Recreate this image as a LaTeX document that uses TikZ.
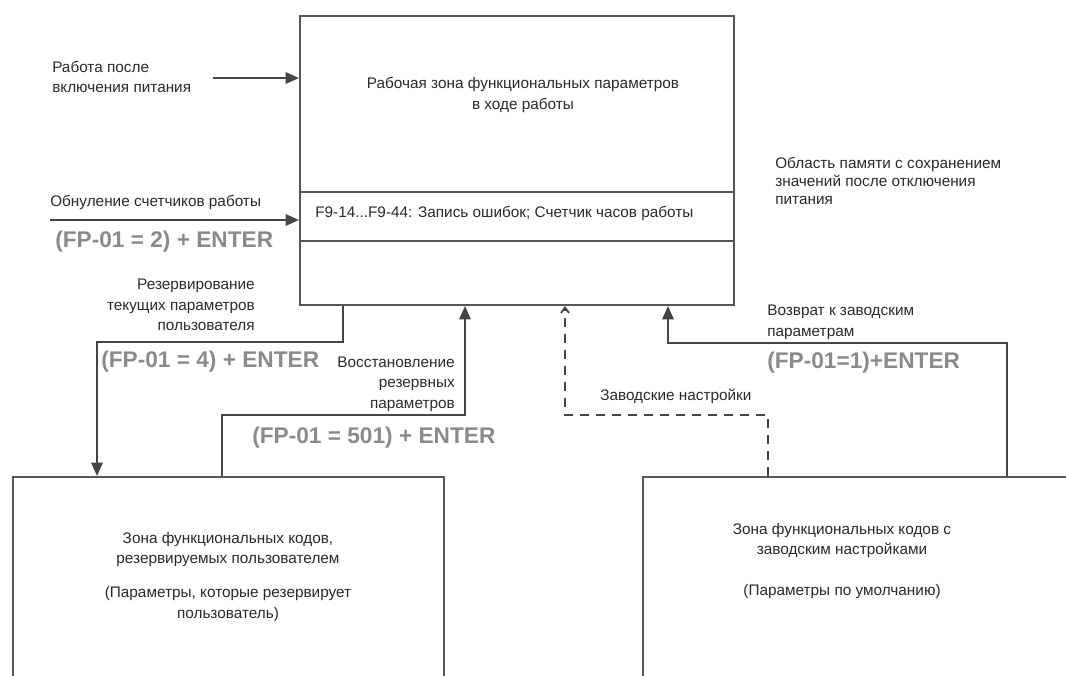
\documentclass[tikz,border=0pt]{standalone}
\usepackage{fontspec}
\setmainfont{Liberation Sans}
\usepackage{tikz}
\usetikzlibrary{arrows.meta,calc,positioning}
\definecolor{zoneLine}{HTML}{555555}
\definecolor{flowLine}{HTML}{454545}
\definecolor{keyGray}{HTML}{8A8A8A}
\definecolor{noteText}{HTML}{2A2A2A}
\tikzset{
  flow/.style={-{Triangle[length=10pt, width=8.5pt]}, line width=1.4pt,
    draw=flowLine},
  dash flow/.style={-{Straight Barb[length=4pt, width=6pt]}, line width=1.4pt,
    draw=flowLine, dash pattern=on 7pt off 5pt},
  zone box/.style={draw=zoneLine, line width=1.5pt, fill=white,
    inner sep=0pt},
  note/.style={font=\fontsize{11.5}{15.5}\selectfont, text=noteText,
    inner sep=0pt},
  key label/.style={font=\fontsize{17}{19}\selectfont\bfseries,
    text=keyGray, inner sep=0pt}
}

\begin{document}
\begin{tikzpicture}[x=0.75pt, y=-0.75pt]
  \useasboundingbox (0,0) rectangle (1066,675);
  \clip (0,0) rectangle (1066,675);

  % zones
  \node[zone box, minimum width=325.5pt, minimum height=216.75pt] (work) at (517,160.5) {};
  \node[zone box, minimum width=325.5pt, minimum height=36.75pt] (errs) at (517,216.5) {};
  \node[zone box, minimum width=323.25pt, minimum height=167.25pt] (user) at (228.5,588.5) {};
  \node[zone box, minimum width=327.75pt, minimum height=167.25pt] (factory) at (861.5,588.5) {};

  \node[note, align=center] (worktext) at (523,95) {Рабочая зона функциональных параметров\\в ходе работы};
  \node[note, anchor=west] (errtext) at (315,213) {F9-14...F9-44: Запись ошибок; Счетчик часов работы};
  \node[note, align=left, anchor=north west, font=\fontsize{11.5}{13.5}\selectfont] (memtext) at (775,157) {Область памяти с сохранением\\значений после отключения\\питания};
  \node[note, align=center] (usertext) at (228,577) {Зона функциональных кодов,\\резервируемых пользователем\\[10pt](Параметры, которые резервирует\\пользователь)};
  \node[note, align=center] (factorytext) at (842,561) {Зона функциональных кодов с\\заводским настройками\\[15pt](Параметры по умолчанию)};

  % power on
  \node[note, align=left, anchor=west] (pwrtext) at (52,77) {Работа после\\включения питания};
  \coordinate (pwr) at (213,78);
  \draw[flow] (pwr) -- (pwr -| work.west);

  % reset counters
  \node[note, anchor=west] (rsttext) at (50,202) {Обнуление счетчиков работы};
  \coordinate (rst) at (50,220);
  \draw[flow] (rst) -- (rst -| work.west);
  \node[key label, anchor=west] (rstkey) at (55,242) {(FP-01 = 2) + ENTER};

  % backup of user parameters
  \node[note, align=right, anchor=east] (bktext) at (255,305) {Резервирование\\текущих параметров\\пользователя};
  \coordinate (bkA) at (343,342);
  \coordinate (bkB) at (97,342);
  \draw[flow] (bkA |- work.south) -- (bkA) -- (bkB) -- (bkB |- user.north);
  \node[key label, anchor=west] (bkkey) at (101,362) {(FP-01 = 4) + ENTER};

  % restore backup
  \node[note, align=right, anchor=east] (rstrtext) at (455,384) {Восстановление\\резервных\\параметров};
  \coordinate (rsA) at (222,415);
  \coordinate (rsB) at (465,415);
  \draw[flow] (rsA |- user.north) -- (rsA) -- (rsB) -- (rsB |- work.south);
  \node[key label, anchor=west] (rstrkey) at (252,438) {(FP-01 = 501) + ENTER};

  % factory settings
  \node[note, anchor=west] (dftext) at (600,396) {Заводские настройки};
  \coordinate (dfA) at (768,415);
  \coordinate (dfB) at (565,415);
  \draw[dash flow] (dfA |- factory.north) -- (dfA) -- (dfB) -- (dfB |- work.south);

  % return to factory parameters
  \node[note, align=left, anchor=west] (rttext) at (767,322) {Возврат к заводским\\параметрам};
  \coordinate (rtA) at (1007,343);
  \coordinate (rtB) at (668,343);
  \draw[flow] (rtA |- factory.north) -- (rtA) -- (rtB) -- (rtB |- work.south);
  \node[key label, anchor=west] (rtkey) at (767,363) {(FP-01=1)+ENTER};
\end{tikzpicture}
\end{document}
